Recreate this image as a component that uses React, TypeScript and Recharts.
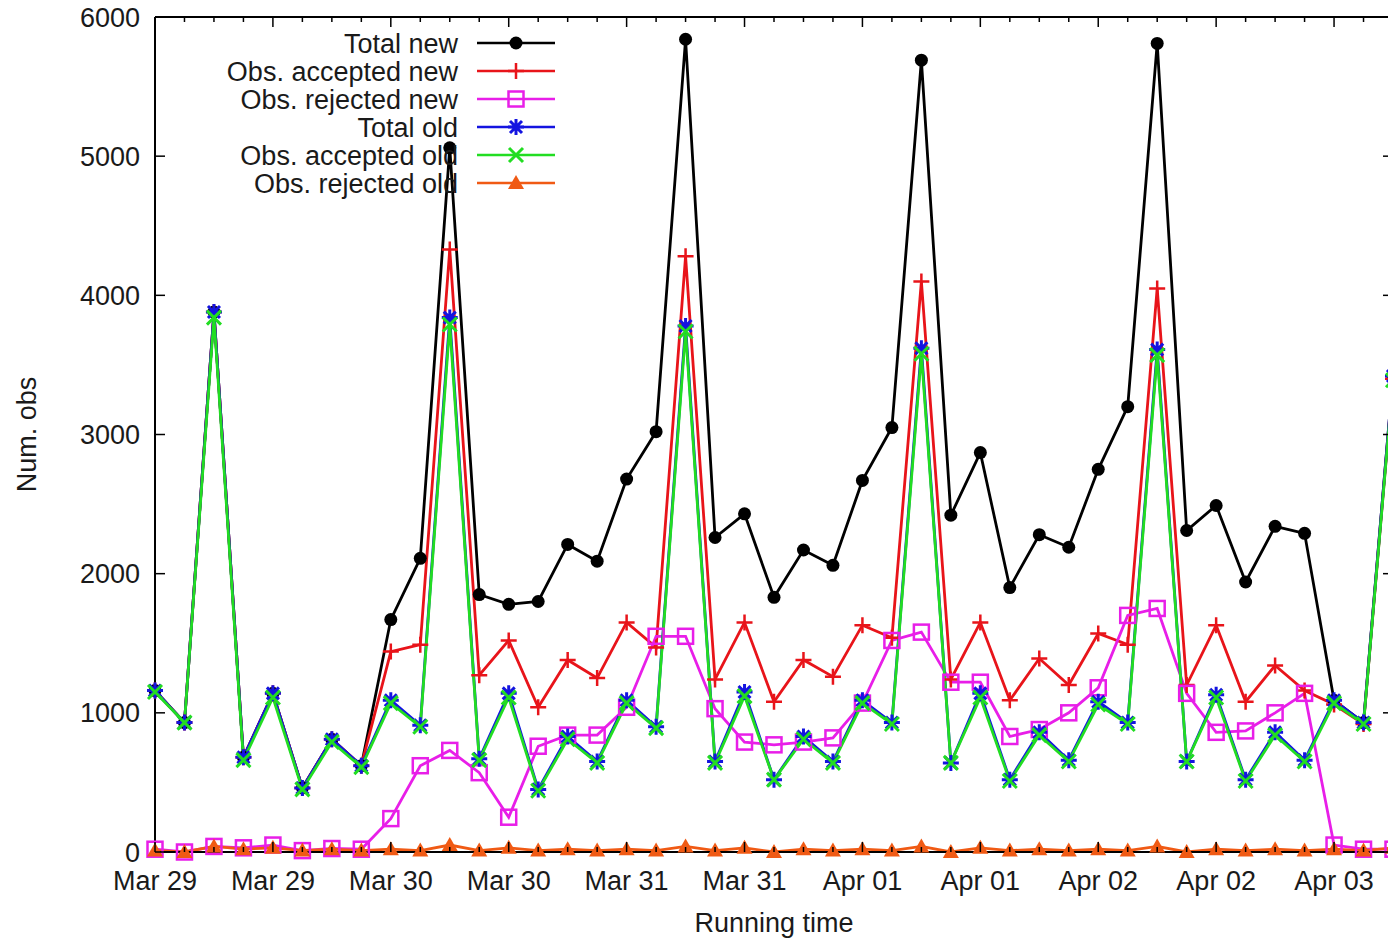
import { LineChart, Line, XAxis, YAxis } from "recharts";

// x positions are sample indices, 4 samples per labelled tick
const xLabels = ["Mar 29", "Mar 29", "Mar 30", "Mar 30", "Mar 31", "Mar 31", "Apr 01", "Apr 01", "Apr 02", "Apr 02", "Apr 03"];
const yTicks = [0, 1000, 2000, 3000, 4000, 5000, 6000];

const totalNew = [1160, 930, 3880, 680, 1140, 460, 810, 620, 1670, 2110, 5060, 1850, 1780, 1800, 2210, 2090, 2680, 3020, 5840, 2260, 2430, 1830, 2170, 2060, 2670, 3050, 5690, 2420, 2870, 1900, 2280, 2190, 2750, 3200, 5810, 2310, 2490, 1940, 2340, 2290, 1090, 930, 3420];
const acceptedNew = [1160, 930, 3880, 680, 1140, 460, 810, 620, 1440, 1490, 4330, 1270, 1520, 1040, 1380, 1250, 1650, 1470, 4280, 1240, 1650, 1080, 1380, 1260, 1630, 1540, 4100, 1240, 1650, 1090, 1390, 1200, 1570, 1490, 4050, 1200, 1630, 1080, 1340, 1160, 1060, 920, 3400];
const rejectedNew = [20, 0, 40, 30, 50, 10, 25, 20, 240, 620, 730, 570, 250, 760, 840, 840, 1040, 1550, 1550, 1030, 790, 770, 790, 820, 1070, 1520, 1580, 1220, 1220, 830, 880, 1000, 1180, 1700, 1750, 1140, 860, 870, 1000, 1140, 50, 20, 20];
const totalOld = [1160, 930, 3880, 680, 1140, 460, 810, 620, 1090, 910, 3840, 670, 1140, 450, 830, 650, 1090, 900, 3780, 650, 1150, 520, 830, 650, 1090, 930, 3620, 640, 1140, 520, 860, 660, 1080, 930, 3610, 650, 1130, 520, 860, 660, 1090, 930, 3420];
const acceptedOld = [1150, 930, 3840, 660, 1110, 450, 790, 610, 1070, 900, 3790, 660, 1110, 440, 810, 640, 1070, 890, 3740, 640, 1120, 520, 810, 640, 1070, 920, 3580, 640, 1110, 510, 840, 650, 1060, 920, 3570, 650, 1110, 510, 840, 650, 1070, 920, 3390];
const rejectedOld = [10, 0, 40, 20, 30, 10, 20, 10, 20, 10, 50, 10, 30, 10, 20, 10, 20, 10, 40, 10, 30, 0, 20, 10, 20, 10, 40, 0, 30, 10, 20, 10, 20, 10, 40, 0, 20, 10, 20, 10, 20, 10, 30];

const data = totalNew.map((v, i) => ({
  idx: i,
  totalNew: v,
  acceptedNew: acceptedNew[i],
  rejectedNew: rejectedNew[i],
  totalOld: totalOld[i],
  acceptedOld: acceptedOld[i],
  rejectedOld: rejectedOld[i],
}));
const xTicks = data.map((d) => d.idx);

const series = [
  { key: "totalNew", name: "Total new", color: "#000000", shape: "circle" },
  { key: "acceptedNew", name: "Obs. accepted new", color: "#e8141a", shape: "plus" },
  { key: "rejectedNew", name: "Obs. rejected new", color: "#e81ee8", shape: "square" },
  { key: "totalOld", name: "Total old", color: "#1414e0", shape: "star" },
  { key: "acceptedOld", name: "Obs. accepted old", color: "#22dd22", shape: "cross" },
  { key: "rejectedOld", name: "Obs. rejected old", color: "#f05a14", shape: "triangle" },
];

const font = "'Liberation Sans', Arial, sans-serif";
const txt = "#1a1a1a";

function Marker({ shape, cx, cy, color }: any) {
  if (cx == null || cy == null) return null;
  const s = 8;
  switch (shape) {
    case "circle":
      return <circle cx={cx} cy={cy} r={6.5} fill={color} />;
    case "plus":
      return (
        <path d={`M${cx - s},${cy}H${cx + s}M${cx},${cy - s}V${cy + s}`} stroke={color} strokeWidth={2.5} />
      );
    case "square":
      return <rect x={cx - 7.5} y={cy - 7.5} width={15} height={15} fill="none" stroke={color} strokeWidth={2.5} />;
    case "star":
      return (
        <path
          d={`M${cx - s},${cy}H${cx + s}M${cx},${cy - s}V${cy + s}M${cx - 6},${cy - 6}L${cx + 6},${cy + 6}M${cx - 6},${cy + 6}L${cx + 6},${cy - 6}`}
          stroke={color}
          strokeWidth={3}
        />
      );
    case "cross":
      return (
        <path d={`M${cx - 7},${cy - 7}L${cx + 7},${cy + 7}M${cx - 7},${cy + 7}L${cx + 7},${cy - 7}`} stroke={color} strokeWidth={3} />
      );
    case "triangle":
      return <path d={`M${cx},${cy - 8}L${cx + 8},${cy + 6}L${cx - 8},${cy + 6}Z`} fill={color} />;
  }
  return null;
}

function BottomTick(props: any) {
  const { x, y, payload } = props;
  const i = payload.value;
  const major = i % 4 === 0;
  const label = major ? xLabels[i / 4] : null;
  return (
    <g>
      <line x1={x} x2={x} y1={y} y2={y - (major ? 10 : 5)} stroke="#000" strokeWidth={1.5} />
      {label && (
        <text x={x} y={y + 38} textAnchor="middle" fontFamily={font} fontSize={27} fill={txt}>
          {label}
        </text>
      )}
    </g>
  );
}

function TopTick(props: any) {
  const { x, y, payload } = props;
  const major = payload.value % 4 === 0;
  return <line x1={x} x2={x} y1={y} y2={y + (major ? 10 : 5)} stroke="#000" strokeWidth={1.5} />;
}

function LeftTick(props: any) {
  const { x, y, payload } = props;
  return (
    <g>
      <line x1={x} x2={x + 10} y1={y} y2={y} stroke="#000" strokeWidth={1.5} />
      <text x={x - 15} y={y + 9.5} textAnchor="end" fontFamily={font} fontSize={27} fill={txt}>
        {payload.value}
      </text>
    </g>
  );
}

function RightTick(props: any) {
  const { x, y } = props;
  return <line x1={x - 10} x2={x} y1={y} y2={y} stroke="#000" strokeWidth={1.5} />;
}

function LegendBox() {
  return (
    <svg width={580} height={200} style={{ position: "absolute", left: 0, top: 0, pointerEvents: "none" }}>
      {series.map((s, i) => {
        const cy = 43 + i * 28;
        return (
          <g key={s.key}>
            <text x={458} y={cy + 9.5} textAnchor="end" fontFamily={font} fontSize={27} fill={txt}>
              {s.name}
            </text>
            <line x1={477} x2={555} y1={cy} y2={cy} stroke={s.color} strokeWidth={2.5} />
            <Marker shape={s.shape} cx={516} cy={cy} color={s.color} />
          </g>
        );
      })}
    </svg>
  );
}

export default function App() {
  return (
    <div
      style={{
        position: "absolute",
        left: 0,
        top: 0,
        width: 1388,
        height: 938,
        overflow: "hidden",
        background: "#fff",
      }}
    >
      <LineChart width={1400} height={938} data={data} margin={{ top: 16, right: 6, bottom: 0, left: 0 }}>
        <XAxis
          xAxisId="b"
          dataKey="idx"
          type="number"
          domain={[0, 42]}
          ticks={xTicks}
          interval={0}
          height={86}
          tickSize={0}
          tickMargin={0}
          tick={<BottomTick />}
          axisLine={{ stroke: "#000", strokeWidth: 2 }}
          label={{ value: "Running time", position: "insideBottom", offset: 6, fontFamily: font, fontSize: 27, fill: txt }}
        />
        <XAxis
          xAxisId="t"
          orientation="top"
          dataKey="idx"
          type="number"
          domain={[0, 42]}
          ticks={xTicks}
          interval={0}
          height={1}
          tickSize={0}
          tickMargin={0}
          tick={<TopTick />}
          axisLine={{ stroke: "#000", strokeWidth: 2 }}
        />
        <YAxis
          yAxisId="l"
          type="number"
          domain={[0, 6000]}
          ticks={yTicks}
          interval={0}
          width={155}
          tickSize={0}
          tickMargin={0}
          tick={<LeftTick />}
          axisLine={{ stroke: "#000", strokeWidth: 2 }}
          label={{ value: "Num. obs", angle: -90, position: "insideLeft", offset: 26, fontFamily: font, fontSize: 27, fill: txt, style: { textAnchor: "middle" } }}
        />
        <YAxis
          yAxisId="r"
          orientation="right"
          type="number"
          domain={[0, 6000]}
          ticks={yTicks}
          interval={0}
          width={1}
          tickSize={0}
          tickMargin={0}
          tick={<RightTick />}
          axisLine={{ stroke: "#000", strokeWidth: 2 }}
        />
        {/* invisible series so the mirrored top/right frame axes get drawn */}
        <Line
          xAxisId="t"
          yAxisId="r"
          dataKey="totalOld"
          stroke="none"
          dot={false}
          activeDot={false}
          legendType="none"
          isAnimationActive={false}
        />
        {series.map((s) => (
          <Line
            key={s.key}
            xAxisId="b"
            yAxisId="l"
            type="linear"
            dataKey={s.key}
            name={s.name}
            stroke={s.color}
            strokeWidth={2.8}
            isAnimationActive={false}
            dot={(p: any) => <Marker key={`${s.key}-${p.index}`} shape={s.shape} cx={p.cx} cy={p.cy} color={s.color} />}
            activeDot={false}
          />
        ))}
      </LineChart>
      <LegendBox />
    </div>
  );
}
